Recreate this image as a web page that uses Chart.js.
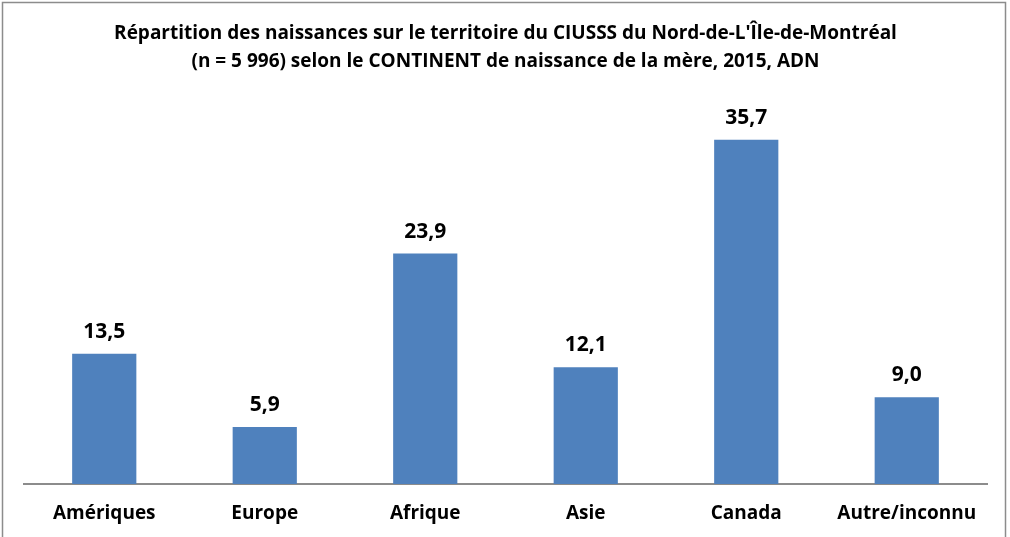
<!DOCTYPE html>
<html>
<head>
<meta charset="utf-8">
<script src="https://cdn.jsdelivr.net/npm/chart.js@4"></script>
<style>
    html, body { margin: 0; padding: 0; background: #fff; overflow: hidden; }
    #wrap { position: relative; width: 1010px; height: 537px; }
</style>
</head>
<body>
<div id="wrap"><canvas id="chart" width="1010" height="537"></canvas></div>
<script>
// Data
const titleLines = [
    "Répartition des naissances sur le territoire du CIUSSS du Nord-de-L'Île-de-Montréal",
    "(n = 5 996) selon le CONTINENT de naissance de la mère, 2015, ADN"
];
const categories = ['Amériques', 'Europe', 'Afrique', 'Asie', 'Canada', 'Autre/inconnu'];
const values = [13.5, 5.9, 23.9, 12.1, 35.7, 9.0];

const FONT = "'Open Sans', 'Liberation Sans', sans-serif";

// Chart frame (spreadsheet style border)
const framePlugin = {
    id: 'frame',
    beforeDraw(chart) {
        const ctx = chart.ctx;
        ctx.save();
        ctx.fillStyle = '#fff';
        ctx.fillRect(0, 0, chart.width, chart.height);
        ctx.strokeStyle = '#8c8c8c';
        ctx.lineWidth = 1.5;
        ctx.strokeRect(2.5, 2.5, 1003, 545);
        ctx.restore();
    }
};

// Value labels above bars, with decimal comma
const valueLabels = {
    id: 'valueLabels',
    afterDatasetsDraw(chart) {
        const ctx = chart.ctx;
        const meta = chart.getDatasetMeta(0);
        ctx.save();
        ctx.font = 'bold 21px ' + FONT;
        ctx.fillStyle = '#000';
        ctx.textAlign = 'center';
        ctx.textBaseline = 'alphabetic';
        meta.data.forEach((bar, i) => {
            const txt = values[i].toFixed(1).replace('.', ',');
            ctx.fillText(txt, bar.x, bar.y - 16);
        });
        ctx.restore();
    }
};

new Chart(document.getElementById('chart'), {
    type: 'bar',
    data: {
        labels: categories,
        datasets: [{
            data: values,
            backgroundColor: '#4f81bd',
            borderWidth: 0,
            barPercentage: 0.4,
            categoryPercentage: 1.0
        }]
    },
    options: {
        responsive: false,
        animation: false,
        layout: {
            padding: { left: 24, right: 23, top: 20, bottom: -6 }
        },
        plugins: {
            legend: { display: false },
            tooltip: { enabled: false },
            title: {
                display: true,
                text: titleLines,
                color: '#000',
                font: { family: FONT, size: 19, weight: 'bold', lineHeight: 1.47 },
                padding: { top: 0, bottom: 22.5 }
            }
        },
        scales: {
            x: {
                grid: { display: false, drawTicks: false },
                border: { color: '#8c8c8c', width: 2 },
                ticks: {
                    color: '#000',
                    padding: 20,
                    font: { family: FONT, size: 19, weight: 'bold', lineHeight: 1.0 }
                }
            },
            y: {
                display: false,
                min: 0,
                max: 40
            }
        }
    },
    plugins: [framePlugin, valueLabels]
});
</script>
</body>
</html>
